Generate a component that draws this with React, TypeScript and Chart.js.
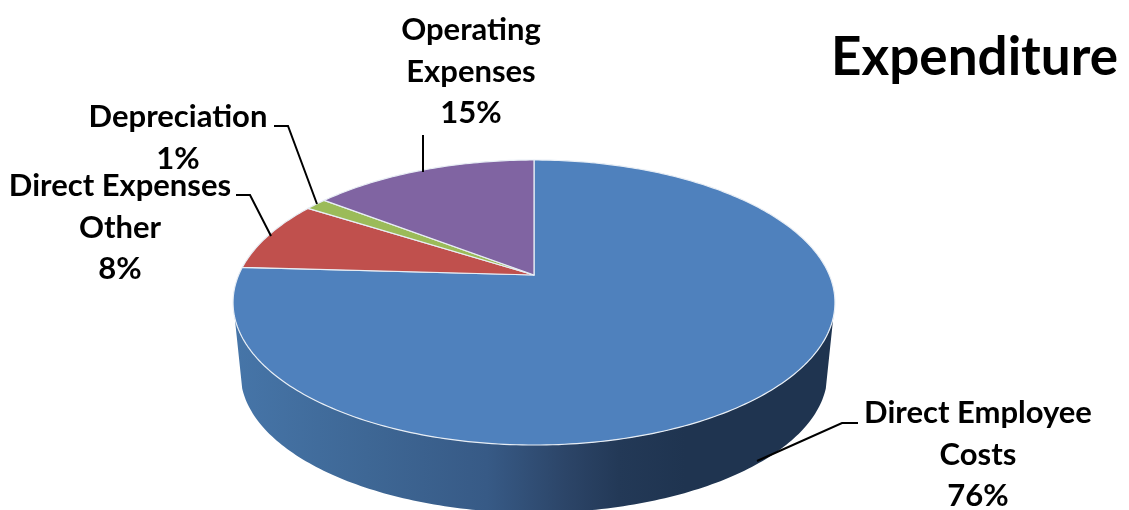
import React, { useEffect, useRef } from "react";
import { Chart, registerables } from "chart.js";

Chart.register(...registerables);

const categories = ["Direct Employee Costs", "Direct Expenses Other", "Depreciation", "Operating Expenses"];
const values = [75.9, 8.1, 1.4, 14.6];
const colors = ["#4F81BD", "#C0504D", "#9BBB59", "#8064A2"];
const labelLines = [["Direct Employee", "Costs"], ["Direct Expenses", "Other"], ["Depreciation"], ["Operating", "Expenses"]];
const labelCenters = [[978, 413], [120, 186], [178, 117], [471, 30]];
const leaders = [
  [[858, 423], [842, 423], [757, 461]],
  [[236, 195], [250, 195], [271, 236]],
  [[274, 126], [288, 126], [317, 204]],
  [[423, 135], [423, 172]],
];
const LINE_H = 41.5;

const APEX_X = 534, APEX_Y = 275, K = -0.193, SX = 295.3, SY = 137.2, DEPTH = 72, SHRINK = 0.975;
const project = (t: number, scale = 1, dy = 0) => {
  const w = 1 + K * Math.sin(t);
  return [APEX_X + (SX * Math.cos(t) * scale) / w, APEX_Y + (SY * Math.sin(t) * scale) / w + dy];
};

const pie3d = {
  id: "pie3d",
  beforeDatasetsDraw(chart: any) {
    const ctx = chart.ctx;
    const arcs = chart.getDatasetMeta(0).data;
    ctx.save();
    // wall
    const t0 = (17 * Math.PI) / 180, t1 = Math.PI - t0, N = 160;
    ctx.beginPath();
    for (let i = 0; i <= N; i++) {
      const p = project(t0 + ((t1 - t0) * i) / N);
      i ? ctx.lineTo(p[0], p[1]) : ctx.moveTo(p[0], p[1]);
    }
    for (let i = N; i >= 0; i--) {
      const p = project(t0 + ((t1 - t0) * i) / N, SHRINK, DEPTH);
      ctx.lineTo(p[0], p[1]);
    }
    ctx.closePath();
    const g = ctx.createLinearGradient(235, 0, 835, 0);
    g.addColorStop(0, "#4675A8");
    g.addColorStop(0.22, "#3E6795");
    g.addColorStop(0.42, "#375A86");
    g.addColorStop(0.55, "#2C4568");
    g.addColorStop(0.64, "#233957");
    g.addColorStop(0.75, "#1F3450");
    g.addColorStop(1, "#1F3450");
    ctx.fillStyle = g;
    ctx.fill();
    // top slices
    arcs.forEach((arc: any) => {
      const { startAngle, endAngle } = arc;
      ctx.beginPath();
      ctx.moveTo(APEX_X, APEX_Y);
      const n = Math.max(4, Math.ceil((endAngle - startAngle) * 60));
      for (let i = 0; i <= n; i++) {
        const p = project(startAngle + ((endAngle - startAngle) * i) / n);
        ctx.lineTo(p[0], p[1]);
      }
      ctx.closePath();
      ctx.fillStyle = arc.options.backgroundColor;
      ctx.fill();
      ctx.strokeStyle = arc.options.borderColor;
      ctx.lineWidth = arc.options.borderWidth;
      ctx.lineJoin = "round";
      ctx.stroke();
    });
    ctx.restore();
    return false;
  },
  afterDraw(chart: any) {
    const ctx = chart.ctx;
    const total = values.reduce((a, b) => a + b, 0);
    ctx.save();
    ctx.strokeStyle = "#000";
    ctx.lineWidth = 2;
    leaders.forEach((pts) => {
      ctx.beginPath();
      pts.forEach((p, i) => (i ? ctx.lineTo(p[0], p[1]) : ctx.moveTo(p[0], p[1])));
      ctx.stroke();
    });
    ctx.fillStyle = "#000";
    ctx.font = "bold 31px Lato";
    ctx.textAlign = "center";
    ctx.textBaseline = "middle";
    labelLines.forEach((lines, i) => {
      const [x, y] = labelCenters[i];
      const all = [...lines, `${Math.round((values[i] / total) * 100)}%`];
      all.forEach((s, j) => ctx.fillText(s, x, y + j * LINE_H));
    });
    ctx.restore();
  },
};

export default function App() {
  const ref = useRef<HTMLCanvasElement>(null);
  useEffect(() => {
    const chart = new Chart(ref.current!, {
      type: "pie",
      data: {
        labels: categories,
        datasets: [{ data: values, backgroundColor: colors, borderColor: "#E8EEF5", borderWidth: 1.2 }],
      },
      options: {
        responsive: false,
        animation: false,
        layout: { padding: { right: 11 } },
        plugins: {
          legend: { display: false },
          tooltip: { enabled: false },
          title: {
            display: true,
            text: "Expenditure",
            align: "end",
            color: "#000",
            font: { family: "Lato", size: 53, weight: "bold" },
            padding: { top: 26, bottom: 0 },
          },
        },
      },
      plugins: [pie3d],
    } as any);
    return () => chart.destroy();
  }, []);
  return (
    <div style={{ position: "fixed", left: 0, top: 0, width: 1129, height: 510, background: "#fff" }}>
      <canvas ref={ref} width={1129} height={510} style={{ display: "block" }} />
    </div>
  );
}
